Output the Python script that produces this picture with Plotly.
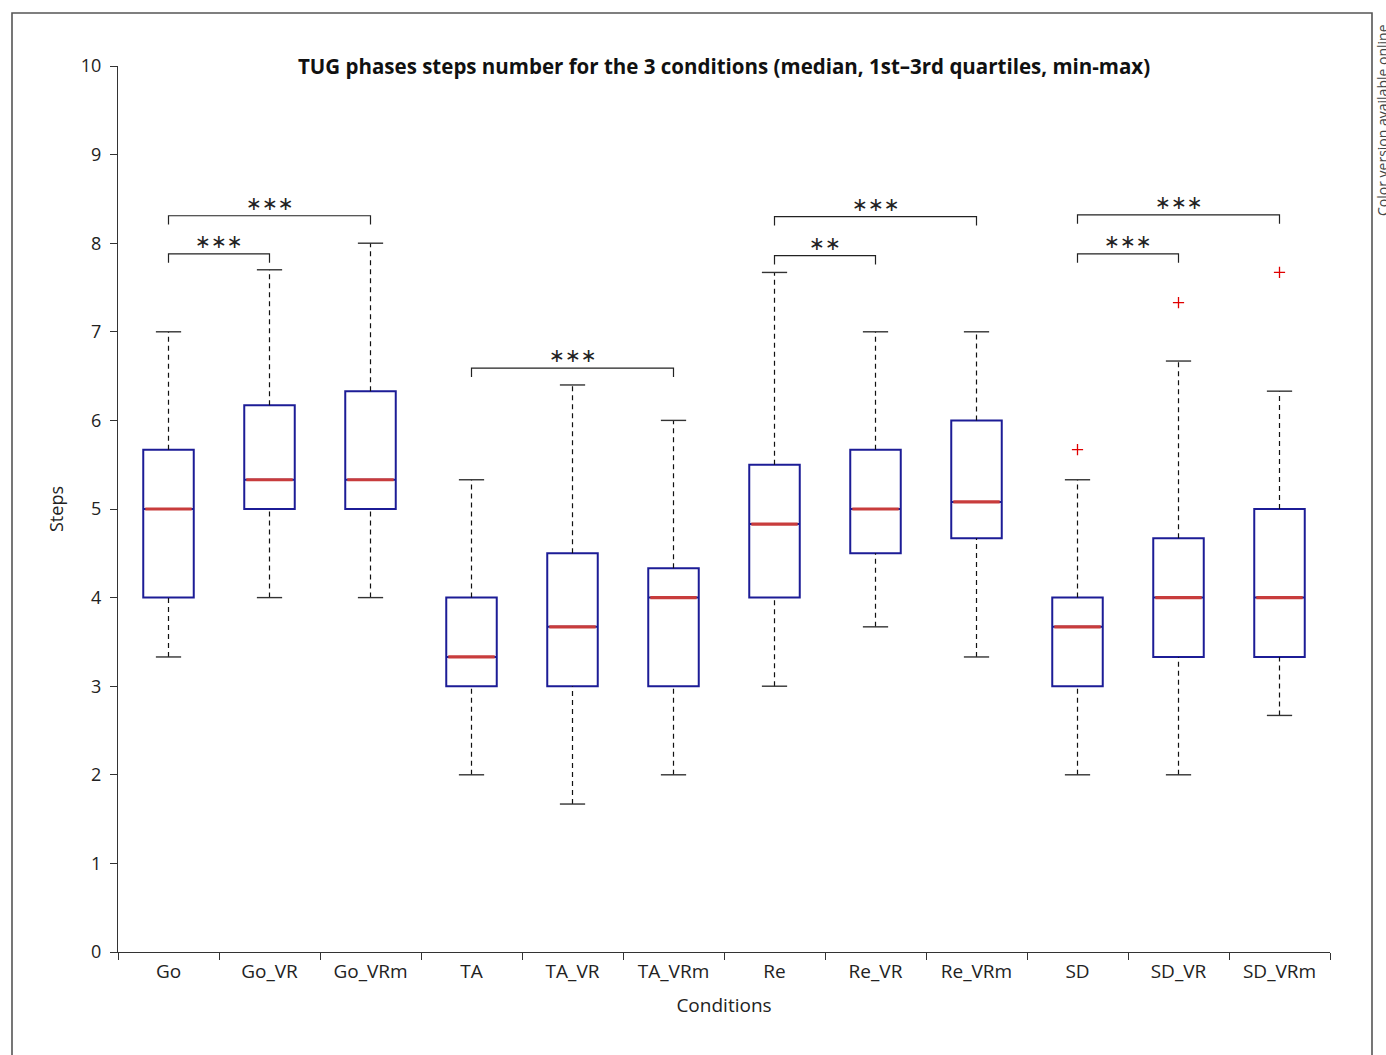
import plotly.graph_objects as go

categories = ["Go", "Go_VR", "Go_VRm", "TA", "TA_VR", "TA_VRm",
              "Re", "Re_VR", "Re_VRm", "SD", "SD_VR", "SD_VRm"]
q1 =     [4.0, 5.0, 5.0, 3.0, 3.0, 3.0, 4.0, 4.5, 4.67, 3.0, 3.33, 3.33]
median = [5.0, 5.33, 5.33, 3.33, 3.67, 4.0, 4.83, 5.0, 5.08, 3.67, 4.0, 4.0]
q3 =     [5.67, 6.17, 6.33, 4.0, 4.5, 4.33, 5.5, 5.67, 6.0, 4.0, 4.67, 5.0]
w_low =  [3.33, 4.0, 4.0, 2.0, 1.67, 2.0, 3.0, 3.67, 3.33, 2.0, 2.0, 2.67]
w_high = [7.0, 7.7, 8.0, 5.33, 6.4, 6.0, 7.67, 7.0, 7.0, 5.33, 6.67, 6.33]

outlier_cat = ["SD", "SD_VR", "SD_VRm"]
outlier_val = [5.67, 7.33, 7.67]

brk_left = ["Go", "Go", "TA", "Re", "Re", "SD", "SD"]
brk_right = ["Go_VR", "Go_VRm", "TA_VRm", "Re_VR", "Re_VRm", "SD_VR", "SD_VRm"]
brk_y = [7.88, 8.31, 6.59, 7.86, 8.30, 7.88, 8.32]
brk_label = ["***", "***", "***", "**", "***", "***", "***"]

FONT = "Open Sans"
BOX_HALF = 0.25
CAP_HALF = 0.125
LEG = 0.1

pos = {c: i + 1 for i, c in enumerate(categories)}
xs = [pos[c] for c in categories]

fig = go.Figure()

# whiskers (dashed)
wx, wy = [], []
for x, a, b, c, d in zip(xs, w_low, q1, q3, w_high):
    wx += [x, x, None, x, x, None]
    wy += [a, b, None, c, d, None]
fig.add_trace(go.Scatter(x=wx, y=wy, mode="lines",
                         line=dict(color="#111111", width=1.2, dash="5px,4px"),
                         hoverinfo="skip", showlegend=False))
# caps
cx, cy = [], []
for x, a, d in zip(xs, w_low, w_high):
    cx += [x - CAP_HALF, x + CAP_HALF, None, x - CAP_HALF, x + CAP_HALF, None]
    cy += [a, a, None, d, d, None]
fig.add_trace(go.Scatter(x=cx, y=cy, mode="lines",
                         line=dict(color="#333333", width=1.4),
                         hoverinfo="skip", showlegend=False))

# boxes
fig.add_trace(go.Box(x=xs, q1=q1, median=median, q3=q3,
                     lowerfence=q1, upperfence=q3, width=2 * BOX_HALF,
                     fillcolor="rgba(255,255,255,1)",
                     line=dict(color="#1c1c96", width=2),
                     whiskerwidth=0, boxpoints=False,
                     hoverinfo="skip", showlegend=False))

# medians
mx, my = [], []
for x, m in zip(xs, median):
    mx += [x - BOX_HALF + 0.02, x + BOX_HALF - 0.02, None]
    my += [m, m, None]
fig.add_trace(go.Scatter(x=mx, y=my, mode="lines",
                         line=dict(color="#c83c3c", width=3.2),
                         hoverinfo="skip", showlegend=False))

# outliers
fig.add_trace(go.Scatter(x=[pos[c] for c in outlier_cat], y=outlier_val,
                         mode="markers",
                         marker=dict(symbol="cross-thin", size=8,
                                     line=dict(color="#e00000", width=1.3)),
                         hoverinfo="skip", showlegend=False))

# significance brackets
bx, by = [], []
for l, r, y in zip(brk_left, brk_right, brk_y):
    bx += [pos[l], pos[l], pos[r], pos[r], None]
    by += [y - LEG, y, y, y - LEG, None]
fig.add_trace(go.Scatter(x=bx, y=by, mode="lines",
                         line=dict(color="#222222", width=1.2),
                         hoverinfo="skip", showlegend=False))
for l, r, y, t in zip(brk_left, brk_right, brk_y, brk_label):
    fig.add_annotation(x=(pos[l] + pos[r]) / 2, y=y, text=t.replace("*", "∗"),
                       showarrow=False, yanchor="middle", yshift=13,
                       font=dict(family="DejaVu Sans", size=19, color="#222222"))

# title
fig.add_annotation(x=0.5, y=1.0, xref="paper", yref="paper",
                   text="<b>TUG phases steps number for the 3 conditions (median, 1st–3rd quartiles, min-max)</b>",
                   showarrow=False, xanchor="center", yanchor="middle",
                   font=dict(family=FONT, size=20.5, color="#111111"))

# side note (partly cut at the page edge, as in the original)
fig.add_annotation(x=(1383 - 118) / 1212, y=(952 - 120) / 886, xref="paper", yref="paper",
                   text="Color version available online", textangle=-90,
                   showarrow=False, xanchor="center", yanchor="middle",
                   font=dict(family=FONT, size=14, color="#444444"))

# outer frame
fig.add_shape(type="rect", xref="paper", yref="paper",
              x0=(12 - 118) / 1212, x1=(1372 - 118) / 1212,
              y0=(952 - 1075) / 886, y1=(952 - 13) / 886,
              line=dict(color="#555555", width=1.6), fillcolor="rgba(0,0,0,0)",
              layer="below")

fig.update_layout(
    width=1386, height=1055,
    margin=dict(l=118, r=56, t=66, b=103),
    plot_bgcolor="white", paper_bgcolor="white",
    font=dict(family=FONT, size=18, color="#222222"),
    showlegend=False,
    xaxis=dict(range=[0.5, 12.5], tickvals=xs, ticktext=categories,
               ticks="", showgrid=False, zeroline=False,
               showline=True, linecolor="#333333", linewidth=1.3,
               tickfont=dict(size=19), ticklabelstandoff=2,
               minor=dict(tickmode="array", tickvals=[i + 0.5 for i in range(13)],
                          ticks="outside", ticklen=7, tickwidth=1.2,
                          tickcolor="#333333", showgrid=False),
               title=dict(text="Conditions", font=dict(size=19), standoff=15)),
    yaxis=dict(range=[0, 10], tickvals=list(range(11)), ticks="outside",
               ticklen=7, tickwidth=1.2, tickcolor="#333333",
               showgrid=False, zeroline=False, showline=True,
               linecolor="#333333", linewidth=1.3,
               tickfont=dict(size=18), ticklabelstandoff=5,
               title=dict(text="Steps", font=dict(size=18), standoff=12)),
)

fig.write_html("out.html", config={"displayModeBar": False},
               post_script="document.body.style.margin='0';")
